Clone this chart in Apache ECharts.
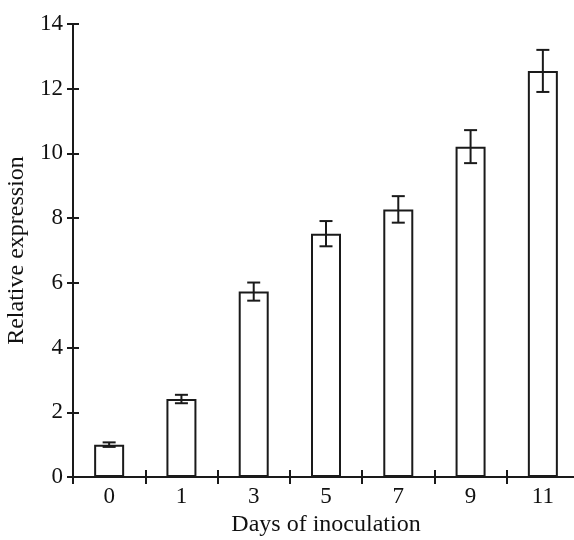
<!DOCTYPE html>
<html><head><meta charset="utf-8">
<script src="https://cdn.jsdelivr.net/npm/echarts@6/dist/echarts.min.js"></script>
<style>html,body{margin:0;padding:0;background:#fff}#c{width:574px;height:540px}</style>
</head><body><div id="c"></div>
<script>
var categories = ['0','1','3','5','7','9','11'];
var values = [1.0, 2.41, 5.73, 7.52, 8.27, 10.21, 12.55];
var errors = [0.07, 0.13, 0.28, 0.39, 0.41, 0.51, 0.65];
var yTicks = {min: 0, max: 14, interval: 2};
var xTitle = 'Days of inoculation';
var yTitle = 'Relative expression';

var FONT = '"Liberation Serif", "Times New Roman", serif';
var chart = echarts.init(document.getElementById('c'), null, {renderer: 'canvas'});
var errData = categories.map(function (c, i) { return [i, values[i] - errors[i], values[i] + errors[i]]; });
var lineCol = '#1a1a1a';
var textCol = '#111';
chart.setOption({
  animation: false,
  backgroundColor: '#fff',
  grid: {left: 73, top: 24, width: 506, height: 453, containLabel: false, outerBoundsMode: 'none'},
  xAxis: [{
    type: 'category', data: categories, boundaryGap: true,
    axisLine: {lineStyle: {color: lineCol, width: 2}},
    axisTick: {show: true, inside: false, length: 7, lineStyle: {color: lineCol, width: 2}},
    axisLabel: {color: textCol, fontFamily: FONT, fontSize: 23, margin: 8},
    name: xTitle, nameLocation: 'middle', nameGap: 32,
    nameTextStyle: {color: textCol, fontFamily: FONT, fontSize: 24}
  }, {
    type: 'category', data: categories, boundaryGap: true, position: 'bottom',
    axisLine: {show: false},
    axisTick: {show: true, inside: true, length: 7, lineStyle: {color: lineCol, width: 2}},
    axisLabel: {show: false}
  }],
  yAxis: [{
    type: 'value', min: yTicks.min, max: yTicks.max, interval: yTicks.interval,
    splitLine: {show: false},
    axisLine: {show: true, lineStyle: {color: lineCol, width: 2}},
    axisTick: {show: true, inside: false, length: 6, lineStyle: {color: lineCol, width: 2}},
    axisLabel: {color: textCol, fontFamily: FONT, fontSize: 23, margin: 10},
    name: yTitle, nameLocation: 'middle', nameGap: 40, nameRotate: 90,
    nameTextStyle: {color: textCol, fontFamily: FONT, fontSize: 24}
  }, {
    type: 'value', min: yTicks.min, max: yTicks.max, interval: yTicks.interval, position: 'left',
    splitLine: {show: false},
    axisLine: {show: false},
    axisTick: {show: true, inside: true, length: 6, lineStyle: {color: lineCol, width: 2}},
    axisLabel: {show: false}
  }],
  series: [{
    type: 'bar', data: values, barWidth: 30,
    itemStyle: {color: '#fff', borderColor: lineCol, borderWidth: 2}
  }, {
    type: 'custom', data: errData,
    renderItem: function (params, api) {
      var x = api.value(0);
      var lo = api.coord([x, api.value(1)]);
      var hi = api.coord([x, api.value(2)]);
      var hw = 6.5;
      var st = {stroke: lineCol, lineWidth: 2};
      return {type: 'group', children: [
        {type: 'line', shape: {x1: lo[0], y1: lo[1], x2: hi[0], y2: hi[1]}, style: st},
        {type: 'line', shape: {x1: lo[0]-hw, y1: lo[1], x2: lo[0]+hw, y2: lo[1]}, style: st},
        {type: 'line', shape: {x1: hi[0]-hw, y1: hi[1], x2: hi[0]+hw, y2: hi[1]}, style: st}
      ]};
    },
    z: 5
  }]
});
</script></body></html>
